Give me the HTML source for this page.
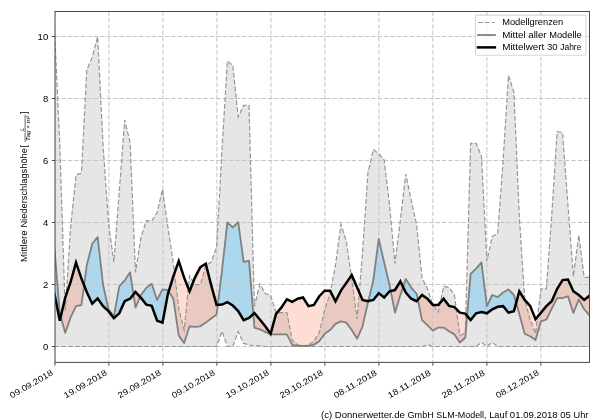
<!DOCTYPE html>
<html><head><meta charset="utf-8"><title>Niederschlag</title>
<style>html,body{margin:0;padding:0;background:#fff;overflow:hidden}body{width:600px;height:420px;font-family:"Liberation Sans",sans-serif}</style></head>
<body>
<svg width="600" height="420" viewBox="0 0 600 420" style="display:block;font-family:'Liberation Sans',sans-serif">
<rect width="600" height="420" fill="#fff"/>
<filter id="soft" x="0" y="0" width="600" height="420" filterUnits="userSpaceOnUse"><feGaussianBlur stdDeviation="0.3"/></filter>
<g filter="url(#soft)">
<rect width="600" height="420" fill="#fff"/>
<defs><clipPath id="ax"><rect x="55.0" y="11.5" width="534.5" height="350.9"/></clipPath></defs>
<g clip-path="url(#ax)">
<polygon points="54.40,27.29 59.81,145.17 65.21,310.82 70.62,227.37 76.02,174.95 81.43,173.09 86.84,69.79 92.24,57.38 97.65,36.60 103.05,145.17 108.46,222.72 113.87,262.43 119.27,191.70 124.68,120.04 130.08,142.38 135.49,272.35 140.90,237.61 146.30,220.55 151.71,221.17 157.11,212.48 162.52,189.22 167.93,227.37 173.33,263.05 178.74,308.34 184.14,330.05 189.55,275.76 194.96,284.76 200.36,284.76 205.77,265.53 211.17,262.12 216.58,247.54 221.99,149.82 227.39,61.11 232.80,65.45 238.20,116.94 243.61,105.46 249.02,105.46 254.42,306.47 259.83,283.83 265.23,293.45 270.64,295.31 276.05,312.68 281.45,312.68 286.86,312.68 292.26,339.98 297.67,344.94 303.08,345.87 308.48,344.94 313.89,341.22 319.29,332.53 324.70,309.89 330.11,293.45 335.51,264.91 340.92,224.27 346.32,241.33 351.73,278.56 357.14,318.88 362.54,252.50 367.95,172.78 373.35,149.51 378.76,153.86 384.17,160.06 389.57,205.04 394.98,263.67 400.38,219.62 405.79,174.02 411.20,200.08 416.60,224.89 422.01,277.63 427.41,288.79 432.82,304.92 438.23,312.06 443.63,286.31 449.04,287.55 454.44,295.00 459.85,335.63 465.26,332.84 470.66,143.31 476.07,143.31 481.47,156.34 486.88,261.18 492.29,236.37 497.69,233.58 503.10,160.68 508.50,75.38 513.91,92.44 519.32,216.52 524.72,299.65 530.13,319.50 535.53,333.77 540.94,288.79 546.35,288.79 551.75,214.97 557.16,131.52 562.56,132.76 567.97,205.04 573.38,276.38 578.78,235.13 584.19,277.63 589.59,277.00 589.59,346.49 584.19,346.49 578.78,346.49 573.38,346.49 567.97,346.49 562.56,346.49 557.16,346.49 551.75,346.49 546.35,346.49 540.94,346.49 535.53,346.49 530.13,346.49 524.72,346.49 519.32,346.49 513.91,346.49 508.50,346.49 503.10,346.49 497.69,346.49 492.29,342.46 486.88,346.49 481.47,342.46 476.07,346.49 470.66,346.49 465.26,346.49 459.85,346.49 454.44,346.49 449.04,346.49 443.63,346.49 438.23,346.49 432.82,346.49 427.41,344.63 422.01,346.49 416.60,346.49 411.20,346.49 405.79,346.49 400.38,346.49 394.98,346.49 389.57,346.49 384.17,346.49 378.76,346.49 373.35,346.49 367.95,346.49 362.54,346.49 357.14,346.49 351.73,346.49 346.32,346.49 340.92,346.49 335.51,346.49 330.11,346.49 324.70,346.49 319.29,346.49 313.89,346.49 308.48,346.49 303.08,346.49 297.67,346.49 292.26,346.49 286.86,346.49 281.45,346.49 276.05,346.49 270.64,346.49 265.23,346.49 259.83,345.87 254.42,345.56 249.02,344.94 243.61,343.39 238.20,331.60 232.80,346.49 227.39,346.49 221.99,331.29 216.58,346.49 211.17,346.49 205.77,346.49 200.36,346.49 194.96,346.49 189.55,346.49 184.14,346.49 178.74,346.49 173.33,346.49 167.93,346.49 162.52,346.49 157.11,346.49 151.71,346.49 146.30,346.49 140.90,346.49 135.49,346.49 130.08,346.49 124.68,346.49 119.27,346.49 113.87,346.49 108.46,346.49 103.05,346.49 97.65,346.49 92.24,346.49 86.84,346.49 81.43,346.49 76.02,346.49 70.62,346.49 65.21,346.49 59.81,346.49 54.40,346.49" fill="#808080" fill-opacity="0.2"/>
<path d="M54.40,247.54 L59.81,313.61 L60.71,316.84 L59.81,320.74 L54.40,293.45Z M84.10,285.30 L86.84,264.91 L92.24,243.81 L97.65,236.99 L103.05,284.76 L108.46,309.27 L113.87,316.40 L119.27,286.31 L124.68,280.42 L130.08,272.35 L133.46,294.45 L130.08,298.72 L124.68,301.20 L119.27,313.30 L113.87,318.26 L108.46,311.13 L103.05,306.16 L97.65,298.41 L92.24,303.68 L86.84,292.20Z M140.09,296.90 L140.90,295.00 L146.30,287.86 L151.71,283.83 L157.11,299.96 L162.52,289.41 L167.93,290.03 L168.70,291.27 L167.93,293.76 L162.52,322.60 L157.11,320.74 L151.71,305.85 L146.30,304.61 L140.90,297.79Z M217.77,304.85 L221.99,270.49 L227.39,222.41 L232.80,227.37 L238.20,222.10 L243.61,261.81 L249.02,260.87 L253.32,314.00 L249.02,317.95 L243.61,320.12 L238.20,311.13 L232.80,305.54 L227.39,302.13 L221.99,304.61Z M368.27,301.13 L373.35,280.11 L378.76,238.85 L384.17,262.43 L389.57,285.07 L390.73,291.01 L389.57,291.27 L384.17,297.48 L378.76,293.14 L373.35,299.96Z M403.09,286.93 L405.79,278.87 L411.20,287.55 L416.60,293.76 L417.84,299.78 L416.60,301.20 L411.20,298.72 L405.79,292.51Z M467.11,315.85 L470.66,273.90 L476.07,268.63 L481.47,262.43 L486.88,306.16 L492.29,295.00 L497.69,297.17 L503.10,292.51 L508.50,289.41 L513.91,295.00 L516.16,302.87 L513.91,311.13 L508.50,312.68 L503.10,306.16 L497.69,306.78 L492.29,309.27 L486.88,313.30 L481.47,312.06 L476.07,313.30 L470.66,320.12Z" fill="#86cdf0" fill-opacity="0.6"/>
<path d="M60.71,316.84 L65.21,297.48 L70.62,281.97 L76.02,262.43 L81.43,278.56 L84.10,285.30 L81.43,305.23 L76.02,306.16 L70.62,317.33 L65.21,332.84Z M133.46,294.45 L135.49,291.89 L140.09,296.90 L135.49,307.71Z M168.70,291.27 L173.33,276.38 L178.74,261.18 L184.14,277.63 L189.55,291.27 L194.96,277.63 L200.36,267.08 L205.77,263.67 L211.17,285.07 L216.58,304.92 L217.77,304.85 L216.58,314.54 L211.17,318.57 L205.77,322.60 L200.36,326.33 L194.96,326.95 L189.55,326.33 L184.14,343.08 L178.74,335.63 L173.33,298.72Z M253.32,314.00 L254.42,312.99 L259.83,319.50 L265.23,326.33 L270.64,333.77 L276.05,313.92 L281.45,307.40 L286.86,299.34 L292.26,301.82 L297.67,298.72 L303.08,297.48 L308.48,306.16 L313.89,304.92 L319.29,296.24 L324.70,290.65 L330.11,290.65 L335.51,301.20 L340.92,290.65 L346.32,282.90 L351.73,275.14 L357.14,287.55 L362.54,299.96 L367.95,301.20 L368.27,301.13 L367.95,302.44 L362.54,326.33 L357.14,338.73 L351.73,330.05 L346.32,322.60 L340.92,321.36 L335.51,323.85 L330.11,330.05 L324.70,333.77 L319.29,341.22 L313.89,344.63 L308.48,345.87 L303.08,345.87 L297.67,345.87 L292.26,344.94 L286.86,334.39 L281.45,334.39 L276.05,334.39 L270.64,334.39 L265.23,331.91 L259.83,329.43 L254.42,327.57Z M390.73,291.01 L394.98,290.03 L400.38,281.35 L403.09,286.93 L400.38,295.00 L394.98,312.68Z M417.84,299.78 L422.01,295.00 L427.41,298.72 L432.82,304.92 L438.23,304.92 L443.63,298.72 L449.04,305.85 L454.44,307.09 L459.85,312.68 L465.26,313.61 L467.11,315.85 L465.26,337.80 L459.85,342.46 L454.44,334.39 L449.04,331.29 L443.63,327.57 L438.23,327.57 L432.82,330.67 L427.41,325.09 L422.01,320.12Z M516.16,302.87 L519.32,291.27 L524.72,299.96 L530.13,305.85 L535.53,319.19 L540.94,312.68 L546.35,306.16 L551.75,301.20 L557.16,288.79 L562.56,280.11 L567.97,279.49 L573.38,291.27 L578.78,295.00 L584.19,299.96 L589.59,295.62 L589.59,315.47 L584.19,309.27 L578.78,299.65 L573.38,312.99 L567.97,296.24 L562.56,298.10 L557.16,298.10 L551.75,308.65 L546.35,319.50 L540.94,321.36 L535.53,339.98 L530.13,336.25 L524.72,333.77 L519.32,313.92Z" fill="#fa552d" fill-opacity="0.2"/>
<path d="M54.90,11.5V362.4 M108.89,11.5V362.4 M162.89,11.5V362.4 M216.88,11.5V362.4 M270.88,11.5V362.4 M324.87,11.5V362.4 M378.87,11.5V362.4 M432.86,11.5V362.4 M486.86,11.5V362.4 M540.86,11.5V362.4 M55.0,346.50H589.5 M55.0,284.50H589.5 M55.0,222.50H589.5 M55.0,160.50H589.5 M55.0,98.50H589.5 M55.0,36.50H589.5" fill="none" stroke="#c6c6c6" stroke-width="1.05" stroke-dasharray="4.5 1.95"/>
<polyline points="54.40,27.29 59.81,145.17 65.21,310.82 70.62,227.37 76.02,174.95 81.43,173.09 86.84,69.79 92.24,57.38 97.65,36.60 103.05,145.17 108.46,222.72 113.87,262.43 119.27,191.70 124.68,120.04 130.08,142.38 135.49,272.35 140.90,237.61 146.30,220.55 151.71,221.17 157.11,212.48 162.52,189.22 167.93,227.37 173.33,263.05 178.74,308.34 184.14,330.05 189.55,275.76 194.96,284.76 200.36,284.76 205.77,265.53 211.17,262.12 216.58,247.54 221.99,149.82 227.39,61.11 232.80,65.45 238.20,116.94 243.61,105.46 249.02,105.46 254.42,306.47 259.83,283.83 265.23,293.45 270.64,295.31 276.05,312.68 281.45,312.68 286.86,312.68 292.26,339.98 297.67,344.94 303.08,345.87 308.48,344.94 313.89,341.22 319.29,332.53 324.70,309.89 330.11,293.45 335.51,264.91 340.92,224.27 346.32,241.33 351.73,278.56 357.14,318.88 362.54,252.50 367.95,172.78 373.35,149.51 378.76,153.86 384.17,160.06 389.57,205.04 394.98,263.67 400.38,219.62 405.79,174.02 411.20,200.08 416.60,224.89 422.01,277.63 427.41,288.79 432.82,304.92 438.23,312.06 443.63,286.31 449.04,287.55 454.44,295.00 459.85,335.63 465.26,332.84 470.66,143.31 476.07,143.31 481.47,156.34 486.88,261.18 492.29,236.37 497.69,233.58 503.10,160.68 508.50,75.38 513.91,92.44 519.32,216.52 524.72,299.65 530.13,319.50 535.53,333.77 540.94,288.79 546.35,288.79 551.75,214.97 557.16,131.52 562.56,132.76 567.97,205.04 573.38,276.38 578.78,235.13 584.19,277.63 589.59,277.00" fill="none" stroke="#969696" stroke-width="1.2" stroke-dasharray="4.8 2.1" stroke-linejoin="miter" stroke-miterlimit="6"/>
<polyline points="54.40,346.49 59.81,346.49 65.21,346.49 70.62,346.49 76.02,346.49 81.43,346.49 86.84,346.49 92.24,346.49 97.65,346.49 103.05,346.49 108.46,346.49 113.87,346.49 119.27,346.49 124.68,346.49 130.08,346.49 135.49,346.49 140.90,346.49 146.30,346.49 151.71,346.49 157.11,346.49 162.52,346.49 167.93,346.49 173.33,346.49 178.74,346.49 184.14,346.49 189.55,346.49 194.96,346.49 200.36,346.49 205.77,346.49 211.17,346.49 216.58,346.49 221.99,331.29 227.39,346.49 232.80,346.49 238.20,331.60 243.61,343.39 249.02,344.94 254.42,345.56 259.83,345.87 265.23,346.49 270.64,346.49 276.05,346.49 281.45,346.49 286.86,346.49 292.26,346.49 297.67,346.49 303.08,346.49 308.48,346.49 313.89,346.49 319.29,346.49 324.70,346.49 330.11,346.49 335.51,346.49 340.92,346.49 346.32,346.49 351.73,346.49 357.14,346.49 362.54,346.49 367.95,346.49 373.35,346.49 378.76,346.49 384.17,346.49 389.57,346.49 394.98,346.49 400.38,346.49 405.79,346.49 411.20,346.49 416.60,346.49 422.01,346.49 427.41,344.63 432.82,346.49 438.23,346.49 443.63,346.49 449.04,346.49 454.44,346.49 459.85,346.49 465.26,346.49 470.66,346.49 476.07,346.49 481.47,342.46 486.88,346.49 492.29,342.46 497.69,346.49 503.10,346.49 508.50,346.49 513.91,346.49 519.32,346.49 524.72,346.49 530.13,346.49 535.53,346.49 540.94,346.49 546.35,346.49 551.75,346.49 557.16,346.49 562.56,346.49 567.97,346.49 573.38,346.49 578.78,346.49 584.19,346.49 589.59,346.49" fill="none" stroke="#969696" stroke-width="1.2" stroke-dasharray="4.8 2.1" stroke-linejoin="miter" stroke-miterlimit="6"/>
<polyline points="54.40,247.54 59.81,313.61 65.21,332.84 70.62,317.33 76.02,306.16 81.43,305.23 86.84,264.91 92.24,243.81 97.65,236.99 103.05,284.76 108.46,309.27 113.87,316.40 119.27,286.31 124.68,280.42 130.08,272.35 135.49,307.71 140.90,295.00 146.30,287.86 151.71,283.83 157.11,299.96 162.52,289.41 167.93,290.03 173.33,298.72 178.74,335.63 184.14,343.08 189.55,326.33 194.96,326.95 200.36,326.33 205.77,322.60 211.17,318.57 216.58,314.54 221.99,270.49 227.39,222.41 232.80,227.37 238.20,222.10 243.61,261.81 249.02,260.87 254.42,327.57 259.83,329.43 265.23,331.91 270.64,334.39 276.05,334.39 281.45,334.39 286.86,334.39 292.26,344.94 297.67,345.87 303.08,345.87 308.48,345.87 313.89,344.63 319.29,341.22 324.70,333.77 330.11,330.05 335.51,323.85 340.92,321.36 346.32,322.60 351.73,330.05 357.14,338.73 362.54,326.33 367.95,302.44 373.35,280.11 378.76,238.85 384.17,262.43 389.57,285.07 394.98,312.68 400.38,295.00 405.79,278.87 411.20,287.55 416.60,293.76 422.01,320.12 427.41,325.09 432.82,330.67 438.23,327.57 443.63,327.57 449.04,331.29 454.44,334.39 459.85,342.46 465.26,337.80 470.66,273.90 476.07,268.63 481.47,262.43 486.88,306.16 492.29,295.00 497.69,297.17 503.10,292.51 508.50,289.41 513.91,295.00 519.32,313.92 524.72,333.77 530.13,336.25 535.53,339.98 540.94,321.36 546.35,319.50 551.75,308.65 557.16,298.10 562.56,298.10 567.97,296.24 573.38,312.99 578.78,299.65 584.19,309.27 589.59,315.47" fill="none" stroke="#808080" stroke-width="1.8" stroke-linejoin="round"/>
<polyline points="54.40,293.45 59.81,320.74 65.21,297.48 70.62,281.97 76.02,262.43 81.43,278.56 86.84,292.20 92.24,303.68 97.65,298.41 103.05,306.16 108.46,311.13 113.87,318.26 119.27,313.30 124.68,301.20 130.08,298.72 135.49,291.89 140.90,297.79 146.30,304.61 151.71,305.85 157.11,320.74 162.52,322.60 167.93,293.76 173.33,276.38 178.74,261.18 184.14,277.63 189.55,291.27 194.96,277.63 200.36,267.08 205.77,263.67 211.17,285.07 216.58,304.92 221.99,304.61 227.39,302.13 232.80,305.54 238.20,311.13 243.61,320.12 249.02,317.95 254.42,312.99 259.83,319.50 265.23,326.33 270.64,333.77 276.05,313.92 281.45,307.40 286.86,299.34 292.26,301.82 297.67,298.72 303.08,297.48 308.48,306.16 313.89,304.92 319.29,296.24 324.70,290.65 330.11,290.65 335.51,301.20 340.92,290.65 346.32,282.90 351.73,275.14 357.14,287.55 362.54,299.96 367.95,301.20 373.35,299.96 378.76,293.14 384.17,297.48 389.57,291.27 394.98,290.03 400.38,281.35 405.79,292.51 411.20,298.72 416.60,301.20 422.01,295.00 427.41,298.72 432.82,304.92 438.23,304.92 443.63,298.72 449.04,305.85 454.44,307.09 459.85,312.68 465.26,313.61 470.66,320.12 476.07,313.30 481.47,312.06 486.88,313.30 492.29,309.27 497.69,306.78 503.10,306.16 508.50,312.68 513.91,311.13 519.32,291.27 524.72,299.96 530.13,305.85 535.53,319.19 540.94,312.68 546.35,306.16 551.75,301.20 557.16,288.79 562.56,280.11 567.97,279.49 573.38,291.27 578.78,295.00 584.19,299.96 589.59,295.62" fill="none" stroke="#000" stroke-width="2.5" stroke-linejoin="miter" stroke-linecap="square"/>
</g>
<rect x="55.0" y="11.5" width="534.5" height="350.9" fill="none" stroke="#4a4a4a" stroke-width="1.0"/>
<path d="M54.90,362.4v3.3 M108.89,362.4v3.3 M162.89,362.4v3.3 M216.88,362.4v3.3 M270.88,362.4v3.3 M324.87,362.4v3.3 M378.87,362.4v3.3 M432.86,362.4v3.3 M486.86,362.4v3.3 M540.86,362.4v3.3 M55.0,346.50h-3.2 M55.0,284.50h-3.2 M55.0,222.50h-3.2 M55.0,160.50h-3.2 M55.0,98.50h-3.2 M55.0,36.50h-3.2" fill="none" stroke="#4a4a4a" stroke-width="1.0"/>
<text x="48.20" y="349.90" font-size="8.33" text-anchor="end" textLength="5.3" lengthAdjust="spacingAndGlyphs" fill="#000">0</text>
<text x="48.20" y="287.86" font-size="8.33" text-anchor="end" textLength="5.3" lengthAdjust="spacingAndGlyphs" fill="#000">2</text>
<text x="48.20" y="225.82" font-size="8.33" text-anchor="end" textLength="5.3" lengthAdjust="spacingAndGlyphs" fill="#000">4</text>
<text x="48.20" y="163.78" font-size="8.33" text-anchor="end" textLength="5.3" lengthAdjust="spacingAndGlyphs" fill="#000">6</text>
<text x="48.20" y="101.74" font-size="8.33" text-anchor="end" textLength="5.3" lengthAdjust="spacingAndGlyphs" fill="#000">8</text>
<text x="48.20" y="39.70" font-size="8.33" text-anchor="end" textLength="10.6" lengthAdjust="spacingAndGlyphs" fill="#000">10</text>
<text transform="translate(53.60,374.4) rotate(-30)" font-size="8.33" text-anchor="end" textLength="48.3" lengthAdjust="spacingAndGlyphs" fill="#000">09.09.2018</text>
<text transform="translate(107.59,374.4) rotate(-30)" font-size="8.33" text-anchor="end" textLength="48.3" lengthAdjust="spacingAndGlyphs" fill="#000">19.09.2018</text>
<text transform="translate(161.59,374.4) rotate(-30)" font-size="8.33" text-anchor="end" textLength="48.3" lengthAdjust="spacingAndGlyphs" fill="#000">29.09.2018</text>
<text transform="translate(215.58,374.4) rotate(-30)" font-size="8.33" text-anchor="end" textLength="48.3" lengthAdjust="spacingAndGlyphs" fill="#000">09.10.2018</text>
<text transform="translate(269.58,374.4) rotate(-30)" font-size="8.33" text-anchor="end" textLength="48.3" lengthAdjust="spacingAndGlyphs" fill="#000">19.10.2018</text>
<text transform="translate(323.57,374.4) rotate(-30)" font-size="8.33" text-anchor="end" textLength="48.3" lengthAdjust="spacingAndGlyphs" fill="#000">29.10.2018</text>
<text transform="translate(377.57,374.4) rotate(-30)" font-size="8.33" text-anchor="end" textLength="48.3" lengthAdjust="spacingAndGlyphs" fill="#000">08.11.2018</text>
<text transform="translate(431.56,374.4) rotate(-30)" font-size="8.33" text-anchor="end" textLength="48.3" lengthAdjust="spacingAndGlyphs" fill="#000">18.11.2018</text>
<text transform="translate(485.56,374.4) rotate(-30)" font-size="8.33" text-anchor="end" textLength="48.3" lengthAdjust="spacingAndGlyphs" fill="#000">28.11.2018</text>
<text transform="translate(539.56,374.4) rotate(-30)" font-size="8.33" text-anchor="end" textLength="48.3" lengthAdjust="spacingAndGlyphs" fill="#000">08.12.2018</text>
<g transform="translate(26.7,186.5) rotate(-90)" fill="#000"><text x="-75.60" y="0" font-size="8.33" textLength="31.83" lengthAdjust="spacingAndGlyphs" fill="#000">Mittlere</text><text x="-41.12" y="0" font-size="8.33" textLength="79.52" lengthAdjust="spacingAndGlyphs" fill="#000">Niederschlagshöhe</text><text x="39.3" y="0" font-size="8.33">[</text><text x="55.4" y="-2.4" font-size="5.5" font-style="italic" textLength="3.3" lengthAdjust="spacingAndGlyphs">L</text><path d="M44.6,-1.6H71.6" stroke="#000" stroke-width="0.6"/><text x="45.6" y="3.5" font-size="5.83" font-style="italic" textLength="25" lengthAdjust="spacingAndGlyphs">Tag × m²</text><text x="72.4" y="0" font-size="8.33">]</text></g>
<rect x="475.4" y="15.1" width="110.6" height="40.1" rx="1.6" fill="#fff" fill-opacity="0.8" stroke="#ccc" stroke-opacity="0.8" stroke-width="1.1"/>
<path d="M478,22.5H494.9" stroke="#969696" stroke-width="1.2" stroke-dasharray="4.8 2.1" fill="none"/>
<path d="M478,35H494.9" stroke="#808080" stroke-width="1.8" stroke-linecap="square" fill="none"/>
<path d="M478,47.4H494.9" stroke="#000" stroke-width="2.5" stroke-linecap="square" fill="none"/>
<text x="502.20" y="25.0" font-size="8.33" textLength="61.04" lengthAdjust="spacingAndGlyphs" fill="#000">Modellgrenzen</text>
<text x="502.20" y="37.55" font-size="8.33" textLength="23.47" lengthAdjust="spacingAndGlyphs" fill="#000">Mittel</text><text x="528.32" y="37.55" font-size="8.33" textLength="18.28" lengthAdjust="spacingAndGlyphs" fill="#000">aller</text><text x="549.25" y="37.55" font-size="8.33" textLength="32.45" lengthAdjust="spacingAndGlyphs" fill="#000">Modelle</text>
<text x="502.20" y="50.1" font-size="8.33" textLength="42.10" lengthAdjust="spacingAndGlyphs" fill="#000">Mittelwert</text><text x="546.95" y="50.1" font-size="8.33" textLength="10.60" lengthAdjust="spacingAndGlyphs" fill="#000">30</text><text x="560.20" y="50.1" font-size="8.33" textLength="21.21" lengthAdjust="spacingAndGlyphs" fill="#000">Jahre</text>
<text x="321.10" y="418" font-size="8.33" textLength="11.10" lengthAdjust="spacingAndGlyphs" fill="#000">(c)</text><text x="334.85" y="418" font-size="8.33" textLength="70.06" lengthAdjust="spacingAndGlyphs" fill="#000">Donnerwetter.de</text><text x="407.57" y="418" font-size="8.33" textLength="26.17" lengthAdjust="spacingAndGlyphs" fill="#000">GmbH</text><text x="436.39" y="418" font-size="8.33" textLength="50.19" lengthAdjust="spacingAndGlyphs" fill="#000">SLM-Modell,</text><text x="489.23" y="418" font-size="8.33" textLength="17.99" lengthAdjust="spacingAndGlyphs" fill="#000">Lauf</text><text x="509.87" y="418" font-size="8.33" textLength="47.78" lengthAdjust="spacingAndGlyphs" fill="#000">01.09.2018</text><text x="560.30" y="418" font-size="8.33" textLength="10.62" lengthAdjust="spacingAndGlyphs" fill="#000">05</text><text x="573.57" y="418" font-size="8.33" textLength="14.83" lengthAdjust="spacingAndGlyphs" fill="#000">Uhr</text>
</g>
</svg>
</body></html>
